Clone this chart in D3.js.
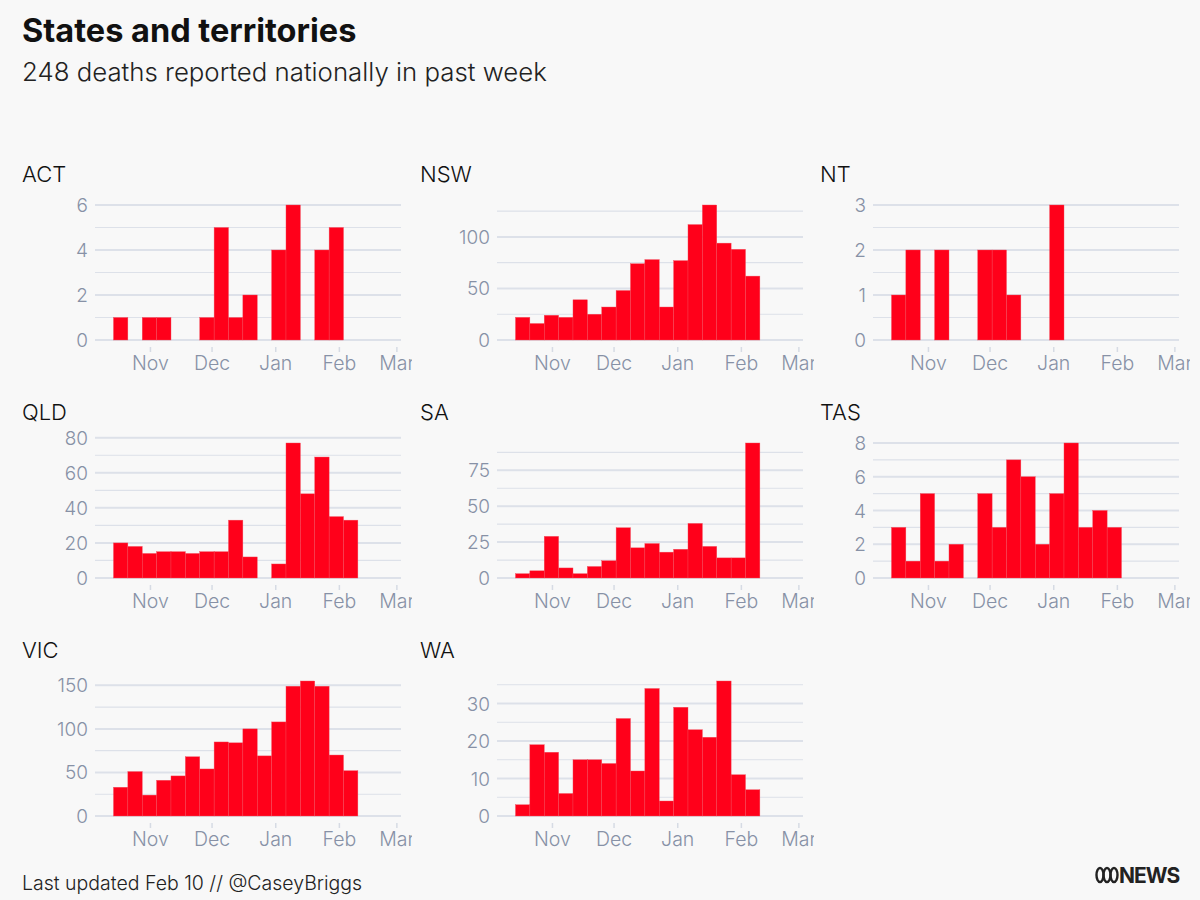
<!DOCTYPE html>
<html><head><meta charset="utf-8">
<script src="https://cdn.jsdelivr.net/npm/d3@7"></script>
<style>
body{margin:0;background:#f8f8f8;font-family:Inter,"Open Sans",sans-serif}
</style></head>
<body><div id="chart"></div>
<script>
// weekly deaths per state, 17 weeks starting 14 Oct
const weekStart = new Date(2021, 9, 14)
const states = ["ACT","NSW","NT","QLD","SA","TAS","VIC","WA"]
const act = [1,0,1,1,0,0,1,5,1,2,0,4,6,0,4,5,0]
const nsw = [22,16,24,22,39,25,32,48,74,78,32,77,112,131,94,88,62]
const nt  = [1,2,0,2,0,0,2,2,1,0,0,3,0,0,0,0,0]
const qld = [20,18,14,15,15,14,15,15,33,12,0,8,77,48,69,35,33]
const sa  = [3,5,29,7,3,8,12,35,21,24,18,20,38,22,14,14,94]
const tas = [3,1,5,1,2,0,5,3,7,6,2,5,8,3,4,3,0]
const vic = [33,51,24,41,46,68,54,85,84,100,69,108,149,155,149,70,52]
const wa  = [3,19,17,6,15,15,14,26,12,34,4,29,23,21,36,11,7]
const series = [act,nsw,nt,qld,sa,tas,vic,wa]
const labelSteps = [2,50,1,20,25,2,50,10]
const monthLabels = ["Nov","Dec","Jan","Feb","Mar"]

const W = 1200, H = 900
const svg = d3.select("#chart").append("svg").attr("width", W).attr("height", H)
svg.append("rect").attr("width", W).attr("height", H).attr("fill", "#f8f8f8")

svg.append("text").attr("x", 22).attr("y", 42).text("States and territories")
  .style("font-size", "32.5px").style("font-weight", 700).attr("fill", "#111")
svg.append("text").attr("x", 22).attr("y", 81).text("248 deaths reported nationally in past week")
  .style("font-size", "25.8px").style("font-weight", 300).attr("fill", "#222")

const colTitle = [22, 420, 820]
const colPlot = [95, 497, 873]
const plotW = 306, plotH = 135
const rowBase = [340, 578, 816]

const months = d3.range(5).map(i => new Date(2021, 10 + i, 1))
const weeks = d3.range(17).map(i => d3.timeDay.offset(weekStart, i * 7))

states.forEach((name, k) => {
  const c = k % 3, r = Math.floor(k / 3)
  const data = series[k]
  const x0 = colPlot[c], y0 = rowBase[r]
  const g = svg.append("g")
  const clipId = "clip" + k
  svg.append("clipPath").attr("id", clipId).append("rect")
    .attr("x", colTitle[c]).attr("y", y0 - 200).attr("width", x0 + plotW + 11 - colTitle[c]).attr("height", 260)
  g.attr("clip-path", `url(#${clipId})`)

  const x = d3.scaleTime().domain([new Date(2021, 9, 5), new Date(2022, 2, 3)]).range([x0, x0 + plotW])
  const max = d3.max(data)
  const y = d3.scaleLinear().domain([0, max]).range([y0, y0 - plotH])

  svg.append("text").attr("x", colTitle[c]).attr("y", y0 - 158).text(name)
    .style("font-size", "22px").style("font-weight", 300).attr("fill", "#111")

  const step = labelSteps[k]
  const grid = d3.range(0, max * 1.05 + 1e-9, step / 2)
  g.selectAll(".grid").data(grid).join("line")
    .attr("x1", x0).attr("x2", x0 + plotW)
    .attr("y1", d => y(d)).attr("y2", d => y(d))
    .attr("stroke", "#dde1e9").attr("stroke-width", d => d % step === 0 ? 2 : 1.2)
  g.selectAll(".yl").data(grid.filter(d => d % step === 0)).join("text")
    .attr("x", x0 - 7).attr("y", d => y(d) + 7).attr("text-anchor", "end")
    .text(d => d).style("font-size", "19px").style("font-weight", 300).attr("fill", "#8791a6")

  g.selectAll(".bar").data(data).join("rect")
    .attr("x", (d, i) => x(weeks[i]))
    .attr("width", (d, i) => x(d3.timeDay.offset(weeks[i], 7)) - x(weeks[i]))
    .attr("y", d => y(d)).attr("height", d => y0 - y(d))
    .attr("fill", "#ff001a").attr("stroke", "#f24a5a").attr("stroke-width", 0.4)

  g.selectAll(".tk").data(months).join("line")
    .attr("x1", d => x(d)).attr("x2", d => x(d))
    .attr("y1", y0 + 7).attr("y2", y0 + 12).attr("stroke", "#d6dbe4").attr("stroke-width", 1.5)
  g.selectAll(".ml").data(months).join("text")
    .attr("x", d => x(d)).attr("y", y0 + 30).attr("text-anchor", "middle")
    .text((d, i) => monthLabels[i]).style("font-size", "19.5px").style("font-weight", 300).attr("fill", "#8791a6")
})

svg.append("text").attr("x", 22).attr("y", 890).text("Last updated Feb 10 // @CaseyBriggs")
  .style("font-size", "19.5px").style("font-weight", 300).attr("fill", "#222")

// ABC NEWS logo
const logo = svg.append("g").attr("transform", "translate(1096,867)")
;[0, 7, 14].forEach(dx => logo.append("ellipse").attr("cx", 4 + dx).attr("cy", 8)
  .attr("rx", 3.5).attr("ry", 7).attr("fill", "none").attr("stroke", "#222").attr("stroke-width", 2.4))
logo.append("text").attr("x", 23).attr("y", 16).text("NEWS")
  .style("font-size", "21px").style("font-weight", 700).style("letter-spacing", "-1px").attr("fill", "#222")
</script></body></html>
